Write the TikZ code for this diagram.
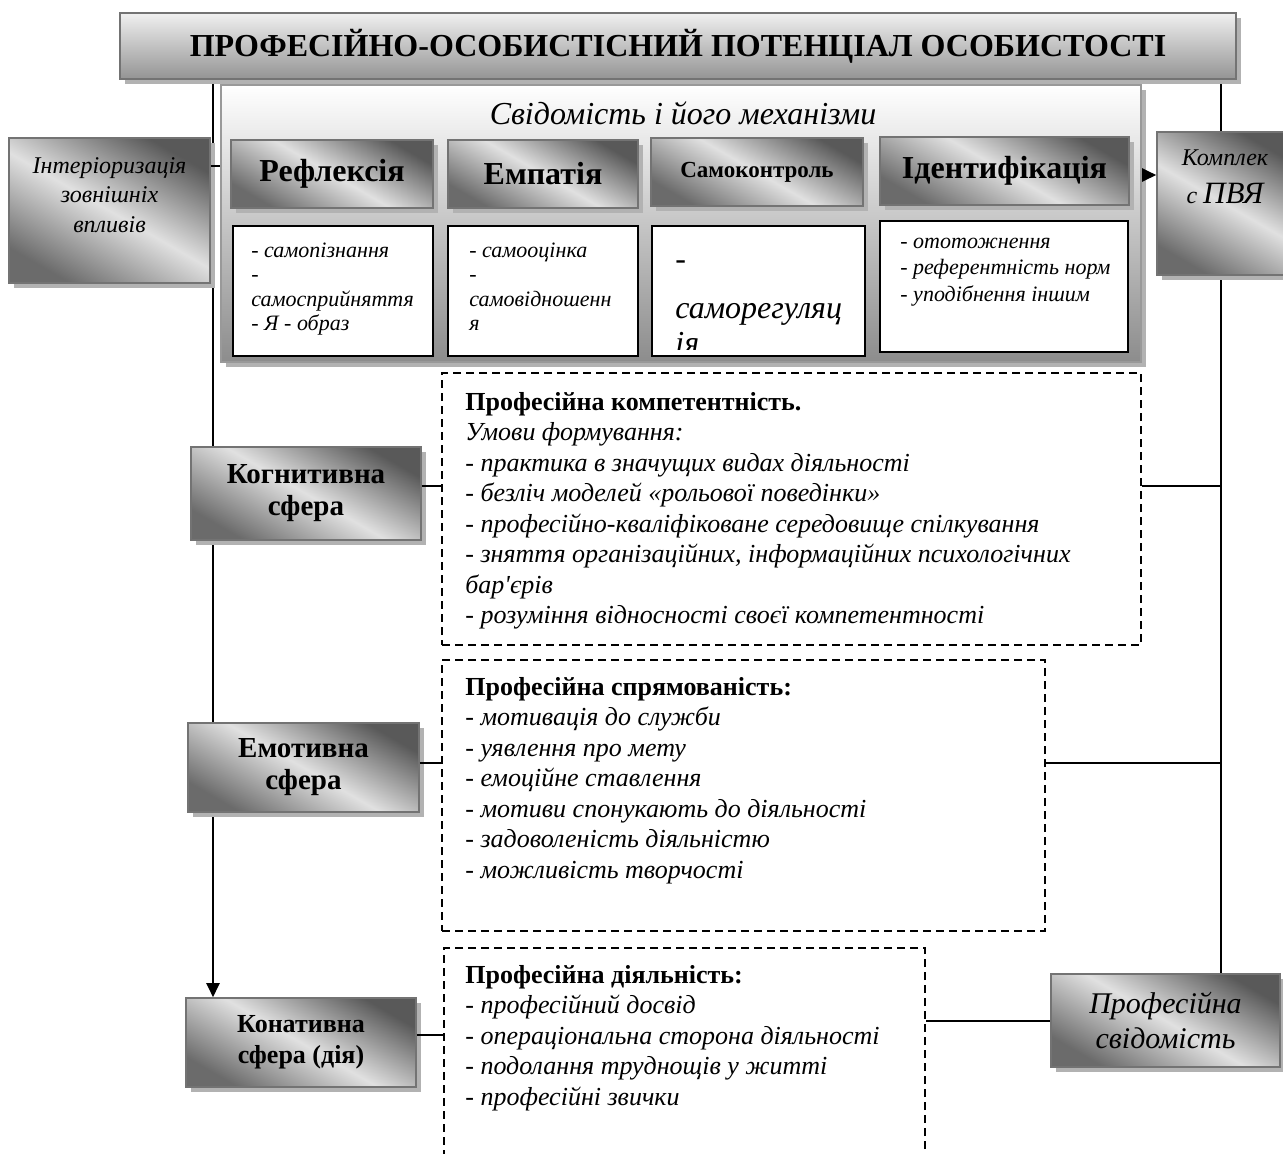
\documentclass[tikz,border=0pt]{standalone}
\usepackage{fontspec}
\setmainfont{Liberation Serif}
\usetikzlibrary{arrows.meta,shadows,calc,backgrounds}

\begin{document}
\begin{tikzpicture}[x=0.5pt, y=-0.5pt, line join=miter,
	shdw/.style={drop shadow={shadow xshift=2.5pt, shadow yshift=-2.5pt, fill=black!30, opacity=1}},
	ttl/.style={draw=black!55, line width=0.8pt, top color=black!6, bottom color=black!42, shdw, inner sep=0pt},
	panel/.style={draw=black!40, line width=0.8pt, top color=white, bottom color=black!45, shdw, inner sep=0pt},
	metal/.style={draw=black!55, line width=0.8pt, top color=black!65, bottom color=black!58, middle color=black!12, shading angle=-30, shdw, inner sep=0pt, align=center},
	wbox/.style={draw=black, line width=1pt, fill=white, inner sep=0pt},
	dbox/.style={draw=black, line width=1pt, dash pattern=on 4pt off 2.5pt, inner sep=0pt},
	lst/.style={inner sep=0pt, align=left, anchor=base west},
	conn/.style={line width=1pt},
	arr/.style={line width=1pt, -{Triangle[length=7pt, width=6.5pt]}}]
				\useasboundingbox (0,0) rectangle (1283,1153);
				\clip (0,0) rectangle (1283,1153);
				
				% 1. Заголовок
				\node[ttl, minimum width=558pt, minimum height=33pt, font=\fontsize{16}{20}\selectfont\bfseries] (title) at (678,46) {ПРОФЕСІЙНО-ОСОБИСТІСНИЙ ПОТЕНЦІАЛ ОСОБИСТОСТІ};
				
				% 2. Свідомість і механізми (у багаторядкових вузлах base = останній рядок)
				\node[panel, minimum width=460pt, minimum height=138.5pt] (svid) at (681,223.5) {};
				\node[anchor=base, inner sep=0pt, font=\fontsize{16}{19}\selectfont\itshape] (svidt) at (683,124) {Свідомість і його механізми};
				
				\node[metal, minimum width=101pt, minimum height=34pt, font=\fontsize{16}{19}\selectfont\bfseries] (refl) at (332,174) {Рефлексія};
				\node[metal, minimum width=95pt, minimum height=34pt, font=\fontsize{16}{19}\selectfont\bfseries] (emp) at (543,174) {Емпатія};
				\node[metal, minimum width=106pt, minimum height=34pt, font=\fontsize{11.5}{14}\selectfont\bfseries] (samk) at (757,172) {Самоконтроль};
				\node[metal, minimum width=124.5pt, minimum height=34pt, font=\fontsize{16}{19}\selectfont\bfseries] (ident) at (1004.5,171) {Ідентифікація};
				
				\node[wbox, minimum width=100pt, minimum height=65pt] (c1) at (333,291) {};
				\node[wbox, minimum width=95pt, minimum height=65pt] (c2) at (543,291) {};
				\node[wbox, minimum width=106.5pt, minimum height=65pt] (c3) at (758.5,291) {};
				\node[wbox, minimum width=124pt, minimum height=65.5pt] (c4) at (1004,286.5) {};
				
				\node[lst, font=\fontsize{11}{12.25}\selectfont\itshape] (c1t) at (251,330.5) {- самопізнання\\-\\самосприйняття\\- Я - образ};
				\node[lst, font=\fontsize{11}{12.25}\selectfont\itshape] (c2t) at (469,330.5) {- самооцінка\\-\\самовідношенн\\я};
				\begin{scope}
					\clip (c3.north west) rectangle ($(c3.south east)+(0,-8)$);
					\node[lst, font=\fontsize{16}{17.5}\selectfont\itshape] (c3t) at (675,353) {-\\[7pt]саморегуляц\\ія};
				\end{scope}
				\node[lst, font=\fontsize{11}{13.25}\selectfont\itshape] (c4t) at (900,301) {- ототожнення\\- референтність норм\\- уподібнення іншим};
				
				% 3. Бічні блоки
				\node[metal, minimum width=100.5pt, minimum height=72.5pt] (intr) at (109.5,210.5) {};
				\node[anchor=base, inner sep=0pt, align=center, font=\fontsize{12}{14.75}\selectfont\itshape] (intrt) at (109.5,232) {Інтеріоризація\\зовнішніх\\впливів};
				
				\node[metal, minimum width=67.5pt, minimum height=71.5pt] (kpv) at (1224.5,203.5) {};
				\node[anchor=base, inner sep=0pt, font=\fontsize{12}{14}\selectfont\itshape] (kpvt1) at (1225,165) {Комплек};
				\node[anchor=base, inner sep=0pt, font=\fontsize{12}{14}\selectfont\itshape] (kpvt2) at (1225,203) {с {\fontsize{15.5}{18}\selectfont ПВЯ}};
				
				% 4. Сфери
				\node[metal, minimum width=115pt, minimum height=46.5pt, font=\fontsize{14.5}{16}\selectfont\bfseries] (kogn) at (306,493.5) {Когнитивна\\сфера};
				\node[metal, minimum width=115.5pt, minimum height=44.5pt, font=\fontsize{14.5}{16}\selectfont\bfseries] (emot) at (303.5,767.5) {Емотивна\\сфера};
				\node[metal, minimum width=115pt, minimum height=44.5pt, font=\fontsize{13}{15.5}\selectfont\bfseries] (konat) at (301,1042.5) {Конативна\\сфера (дія)};
				\node[metal, minimum width=114.5pt, minimum height=46.5pt, font=\fontsize{15}{17.5}\selectfont\itshape] (profs) at (1165.5,1020.5) {Професійна\\свідомість};
				
				% 5. Пунктирні блоки
				\node[dbox, minimum width=349.5pt, minimum height=136pt] (komp) at (791.5,509) {};
				\node[lst, font=\fontsize{13}{15.25}\selectfont\itshape] (kompt) at (465,623.5) {{\bfseries\upshape Професійна компетентність.}\\Умови формування:\\- практика в значущих видах діяльності\\- безліч моделей «рольової поведінки»\\- професійно-кваліфіковане середовище спілкування\\- зняття організаційних, інформаційних психологічних\\бар\textquotesingle єрів\\- розуміння відносності своєї компетентності};
				
				\node[dbox, minimum width=301.5pt, minimum height=135.5pt] (spr) at (743.5,795.5) {};
				\node[lst, font=\fontsize{13}{15.25}\selectfont\itshape] (sprt) at (465,878) {{\bfseries\upshape Професійна спрямованість:}\\- мотивація до служби\\- уявлення про мету\\- емоційне ставлення\\- мотиви спонукають до діяльності\\- задоволеність діяльністю\\- можливість творчості};
				
				\node[dbox, minimum width=240.5pt, minimum height=113.5pt] (diyal) at (684.5,1061.5) {};
				\node[lst, font=\fontsize{13}{15.25}\selectfont\itshape] (diyalt) at (465,1105) {{\bfseries\upshape Професійна діяльність:}\\- професійний досвід\\- операціональна сторона діяльності\\- подолання труднощів у житті\\- професійні звички};
				
				% 6. Зв'язки
				\coordinate (lx) at (213,0);
				\coordinate (rx) at (1221,0);
				\begin{pgfonlayer}{background}
					\draw[arr] (title.south -| lx) -- (konat.north -| lx);
					\draw[conn] (title.south -| rx) -- (profs.north -| rx);
				\end{pgfonlayer}
				\draw[conn] ($(intr.east)+(0,-44.5)$) coordinate (a0) -- (a0 -| svid.west);
				\draw[arr] ($(svid.east)+(0,-48.5)$) coordinate (a1) -- (a1 -| kpv.west);
				\draw[conn] ($(kogn.east)+(0,-7.5)$) coordinate (r1) -- (r1 -| komp.west);
				\draw[conn] (r1 -| komp.east) -- (r1 -| rx);
				\draw[conn] ($(emot.east)+(0,-4.5)$) coordinate (r2) -- (r2 -| spr.west);
				\draw[conn] (r2 -| spr.east) -- (r2 -| rx);
				\draw[conn] ($(konat.east)+(0,-7.5)$) coordinate (r3) -- (r3 -| diyal.west);
				\draw[conn] (diyal.east |- profs.west) -- (profs.west);
			\end{tikzpicture}
\end{document}
